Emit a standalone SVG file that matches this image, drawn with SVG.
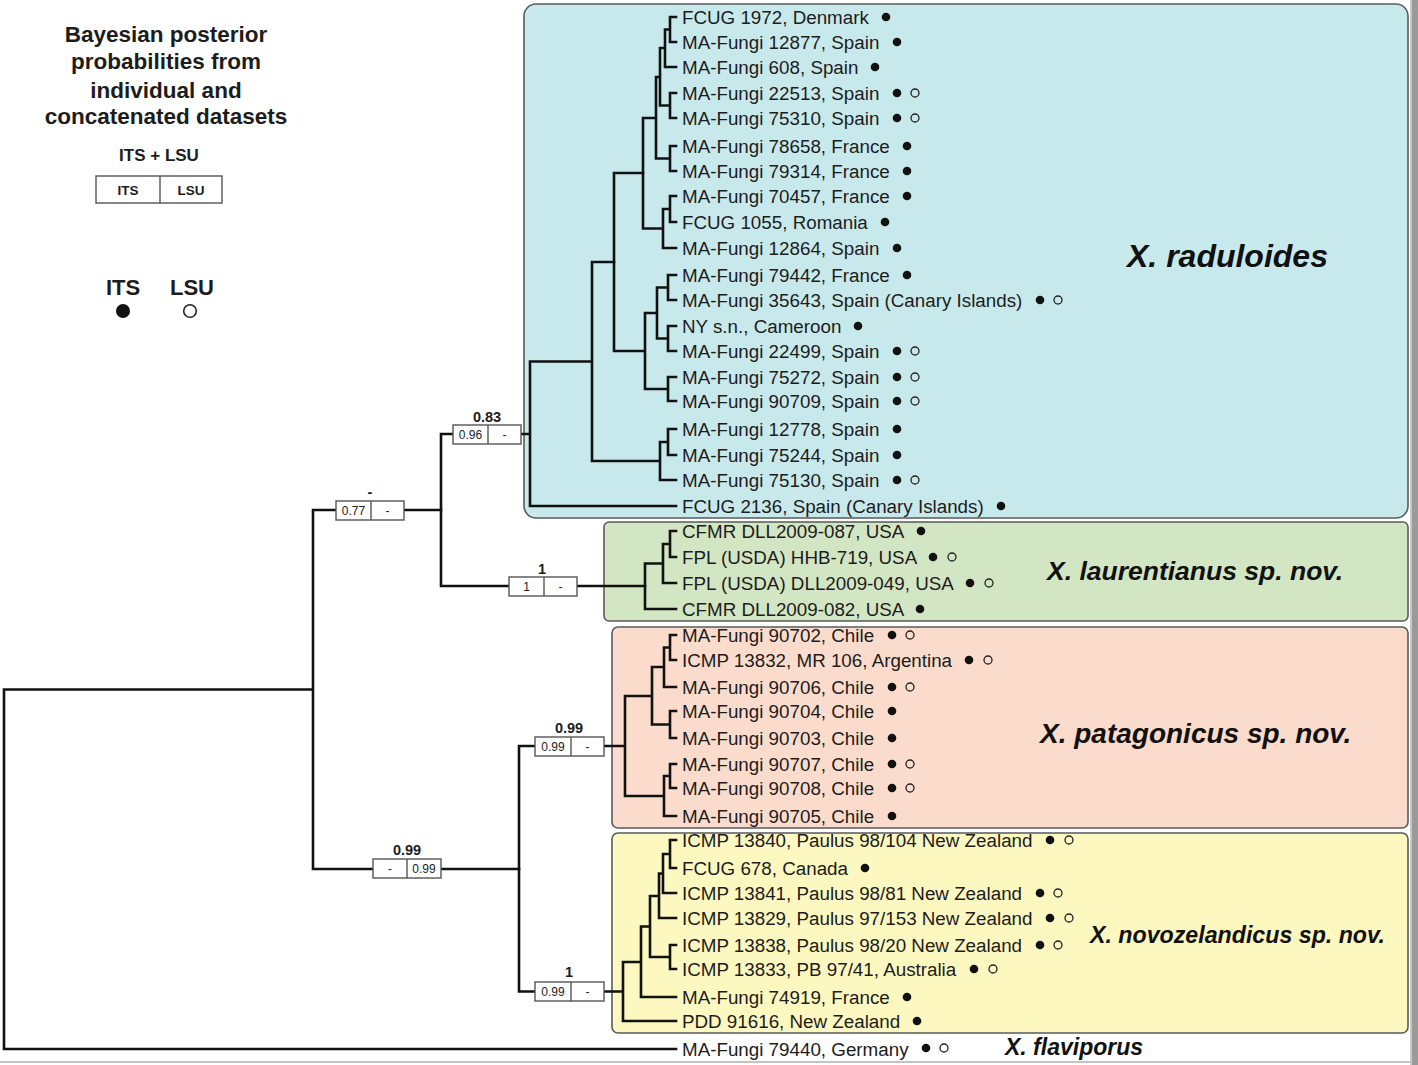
<svg xmlns="http://www.w3.org/2000/svg" width="1418" height="1065" viewBox="0 0 1418 1065">
<style>
.tx{font-family:"Liberation Sans",Arial,sans-serif;font-size:18.8px;fill:#1c1c1c}
.lg{font-family:"Liberation Sans",Arial,sans-serif;font-weight:bold;fill:#1c1c1c;text-anchor:middle}
.cl{font-family:"Liberation Sans",Arial,sans-serif;font-weight:bold;font-style:italic;fill:#111}
.bx{fill:#fff;stroke:#555;stroke-width:1.4}
.bt{font-family:"Liberation Sans",Arial,sans-serif;font-size:12px;fill:#222;text-anchor:middle}
.bl{font-family:"Liberation Sans",Arial,sans-serif;font-size:14.5px;font-weight:bold;fill:#1c1c1c;text-anchor:middle}
.f{fill:#111}
.o{fill:none;stroke:#222;stroke-width:1.3}
.tree{fill:none;stroke:#111;stroke-width:2.6;stroke-linejoin:miter;stroke-linecap:square}
.clade{stroke:#5a5a5a;stroke-width:1.6}
</style>
<rect width="1418" height="1065" fill="#fff"/>
<rect x="1410" y="0" width="8" height="1065" fill="#9a9a9a"/>
<rect x="1410" y="0" width="2" height="1065" fill="#c8c8c8"/>
<rect x="0" y="1061" width="1410" height="2" fill="#c4c4c4"/>

<g id="clade-boxes">
<rect id="box-raduloides" class="clade" x="524" y="4" width="884" height="514" rx="12" fill="#c8e9ec"/>
<rect id="box-laurentianus" class="clade" x="604" y="522" width="804" height="99" rx="5" fill="#d3e6c3"/>
<rect id="box-patagonicus" class="clade" x="612" y="627" width="796" height="201" rx="6" fill="#fbdccc"/>
<rect id="box-novozelandicus" class="clade" x="612" y="833" width="796" height="200" rx="6" fill="#fdf7c0"/>
</g>

<g id="legend">
<text class="lg" x="166" y="42" font-size="22.5">Bayesian posterior</text>
<text class="lg" x="166" y="69" font-size="22.5">probabilities from</text>
<text class="lg" x="166" y="98" font-size="22.5">individual and</text>
<text class="lg" x="166" y="124" font-size="22.5">concatenated datasets</text>
<text class="lg" x="159" y="161" font-size="17">ITS + LSU</text>
<rect class="bx" x="96" y="176" width="126" height="27"/>
<line x1="160" y1="176" x2="160" y2="203" stroke="#555" stroke-width="1.4"/>
<text class="lg" x="128" y="195" font-size="13.5" fill="#333">ITS</text>
<text class="lg" x="191" y="195" font-size="13.5" fill="#333">LSU</text>
<text class="lg" x="123" y="295" font-size="22">ITS</text>
<text class="lg" x="192" y="295" font-size="22">LSU</text>
<circle cx="123" cy="311" r="7" fill="#111"/>
<circle cx="190" cy="311" r="6.3" fill="none" stroke="#222" stroke-width="1.6"/>
</g>

<g id="connectors">
<path class="tree" d="M676 17H670V42H676 M670 29.5H665V67H676 M676 93H670V118H676 M665 48H660V105.5H670 M676 146H670V171H676 M660 77H656V158.5H670 M676 196H670V222H676 M670 209H663V248H676 M656 118H643V228.5H663"/>
<path class="tree" d="M676 275H668V300H676 M676 326H668V351H676 M668 287.5H657V338.5H668 M676 377H668V401H676 M657 313H645V389H668 M643 173H614V351H645"/>
<path class="tree" d="M676 429H668V455H676 M668 442H660V480H676 M614 262H592V461H660 M592 361.5H530V506H676 M530 434H521 M453 434H441V586H509 M577 586H645"/>
<path class="tree" d="M676 531H670V557H676 M670 544H663V583H676 M663 563.5H645V609H676"/>
<path class="tree" d="M441 510H404 M336 510H313V869H373 M441 869H519 M313 689.5H4V1049H676"/>
<path class="tree" d="M676 635H670V660H676 M670 647.5H664V687H676 M676 711H670V738H676 M664 667H652V724.5H670 M676 764H670V788H676 M670 776H664V816H676 M652 696H625V796H664 M625 746H604 M535 746H519V991.5H535"/>
<path class="tree" d="M676 840H670V868H676 M670 854H663V893H676 M663 873.5H659V918H676 M676 945H670V969H676 M659 896H650V957H670 M650 926.5H641V997H676 M641 962H623V1021H676 M623 991.5H604"/>
</g>

<g id="support-0.83">
<text class="bl" x="487" y="422">0.83</text>
<rect class="bx" x="453" y="425" width="68" height="19"/><line x1="488" y1="425" x2="488" y2="444" stroke="#555" stroke-width="1.4"/>
<text class="bt" x="470.5" y="438.5">0.96</text><text class="bt" x="504.5" y="438.5">-</text>
</g>
<g id="support-0.77">
<text class="bl" x="370" y="497">-</text>
<rect class="bx" x="336" y="501" width="68" height="19"/><line x1="371" y1="501" x2="371" y2="520" stroke="#555" stroke-width="1.4"/>
<text class="bt" x="353.5" y="514.5">0.77</text><text class="bt" x="387.5" y="514.5">-</text>
</g>
<g id="support-1-laur">
<text class="bl" x="542" y="574">1</text>
<rect class="bx" x="509" y="577" width="68" height="19"/><line x1="544" y1="577" x2="544" y2="596" stroke="#555" stroke-width="1.4"/>
<text class="bt" x="526.5" y="590.5">1</text><text class="bt" x="560.5" y="590.5">-</text>
</g>
<g id="support-0.99-pat">
<text class="bl" x="569" y="733">0.99</text>
<rect class="bx" x="535" y="737" width="69" height="19"/><line x1="571" y1="737" x2="571" y2="756" stroke="#555" stroke-width="1.4"/>
<text class="bt" x="553" y="750.5">0.99</text><text class="bt" x="587.5" y="750.5">-</text>
</g>
<g id="support-0.99-south">
<text class="bl" x="407" y="855">0.99</text>
<rect class="bx" x="373" y="859" width="68" height="19"/><line x1="407" y1="859" x2="407" y2="878" stroke="#555" stroke-width="1.4"/>
<text class="bt" x="390" y="872.5">-</text><text class="bt" x="424" y="872.5">0.99</text>
</g>
<g id="support-1-nz">
<text class="bl" x="569" y="977">1</text>
<rect class="bx" x="535" y="982" width="69" height="19"/><line x1="571" y1="982" x2="571" y2="1001" stroke="#555" stroke-width="1.4"/>
<text class="bt" x="553" y="995.5">0.99</text><text class="bt" x="587.5" y="995.5">-</text>
</g>

<g id="taxa">
<g id="t1"><text class="tx" x="682" y="23.5">FCUG 1972, Denmark</text><circle class="f" cx="886" cy="17" r="4.3"/></g>
<g id="t2"><text class="tx" x="682" y="48.5">MA-Fungi 12877, Spain</text><circle class="f" cx="897" cy="42" r="4.3"/></g>
<g id="t3"><text class="tx" x="682" y="73.5">MA-Fungi 608, Spain</text><circle class="f" cx="875" cy="67" r="4.3"/></g>
<g id="t4"><text class="tx" x="682" y="99.5">MA-Fungi 22513, Spain</text><circle class="f" cx="897" cy="93" r="4.3"/><circle class="o" cx="915" cy="93" r="4"/></g>
<g id="t5"><text class="tx" x="682" y="124.5">MA-Fungi 75310, Spain</text><circle class="f" cx="897" cy="118" r="4.3"/><circle class="o" cx="915" cy="118" r="4"/></g>
<g id="t6"><text class="tx" x="682" y="152.5">MA-Fungi 78658, France</text><circle class="f" cx="907" cy="146" r="4.3"/></g>
<g id="t7"><text class="tx" x="682" y="177.5">MA-Fungi 79314, France</text><circle class="f" cx="907" cy="171" r="4.3"/></g>
<g id="t8"><text class="tx" x="682" y="202.5">MA-Fungi 70457, France</text><circle class="f" cx="907" cy="196" r="4.3"/></g>
<g id="t9"><text class="tx" x="682" y="228.5">FCUG 1055, Romania</text><circle class="f" cx="885" cy="222" r="4.3"/></g>
<g id="t10"><text class="tx" x="682" y="254.5">MA-Fungi 12864, Spain</text><circle class="f" cx="897" cy="248" r="4.3"/></g>
<g id="t11"><text class="tx" x="682" y="281.5">MA-Fungi 79442, France</text><circle class="f" cx="907" cy="275" r="4.3"/></g>
<g id="t12"><text class="tx" x="682" y="306.5">MA-Fungi 35643, Spain (Canary Islands)</text><circle class="f" cx="1040" cy="300" r="4.3"/><circle class="o" cx="1058" cy="300" r="4"/></g>
<g id="t13"><text class="tx" x="682" y="332.5">NY s.n., Cameroon</text><circle class="f" cx="858" cy="326" r="4.3"/></g>
<g id="t14"><text class="tx" x="682" y="357.5">MA-Fungi 22499, Spain</text><circle class="f" cx="897" cy="351" r="4.3"/><circle class="o" cx="915" cy="351" r="4"/></g>
<g id="t15"><text class="tx" x="682" y="383.5">MA-Fungi 75272, Spain</text><circle class="f" cx="897" cy="377" r="4.3"/><circle class="o" cx="915" cy="377" r="4"/></g>
<g id="t16"><text class="tx" x="682" y="407.5">MA-Fungi 90709, Spain</text><circle class="f" cx="897" cy="401" r="4.3"/><circle class="o" cx="915" cy="401" r="4"/></g>
<g id="t17"><text class="tx" x="682" y="435.5">MA-Fungi 12778, Spain</text><circle class="f" cx="897" cy="429" r="4.3"/></g>
<g id="t18"><text class="tx" x="682" y="461.5">MA-Fungi 75244, Spain</text><circle class="f" cx="897" cy="455" r="4.3"/></g>
<g id="t19"><text class="tx" x="682" y="486.5">MA-Fungi 75130, Spain</text><circle class="f" cx="897" cy="480" r="4.3"/><circle class="o" cx="915" cy="480" r="4"/></g>
<g id="t20"><text class="tx" x="682" y="512.5">FCUG 2136, Spain (Canary Islands)</text><circle class="f" cx="1001" cy="506" r="4.3"/></g>
<g id="t21"><text class="tx" x="682" y="537.5">CFMR DLL2009-087, USA</text><circle class="f" cx="921" cy="531" r="4.3"/></g>
<g id="t22"><text class="tx" x="682" y="563.5">FPL (USDA) HHB-719, USA</text><circle class="f" cx="933" cy="557" r="4.3"/><circle class="o" cx="952" cy="557" r="4"/></g>
<g id="t23"><text class="tx" x="682" y="589.5">FPL (USDA) DLL2009-049, USA</text><circle class="f" cx="970" cy="583" r="4.3"/><circle class="o" cx="989" cy="583" r="4"/></g>
<g id="t24"><text class="tx" x="682" y="615.5">CFMR DLL2009-082, USA</text><circle class="f" cx="920" cy="609" r="4.3"/></g>
<g id="t25"><text class="tx" x="682" y="641.5">MA-Fungi 90702, Chile</text><circle class="f" cx="892" cy="635" r="4.3"/><circle class="o" cx="910" cy="635" r="4"/></g>
<g id="t26"><text class="tx" x="682" y="666.5">ICMP 13832, MR 106, Argentina</text><circle class="f" cx="969" cy="660" r="4.3"/><circle class="o" cx="988" cy="660" r="4"/></g>
<g id="t27"><text class="tx" x="682" y="693.5">MA-Fungi 90706, Chile</text><circle class="f" cx="892" cy="687" r="4.3"/><circle class="o" cx="910" cy="687" r="4"/></g>
<g id="t28"><text class="tx" x="682" y="717.5">MA-Fungi 90704, Chile</text><circle class="f" cx="892" cy="711" r="4.3"/></g>
<g id="t29"><text class="tx" x="682" y="744.5">MA-Fungi 90703, Chile</text><circle class="f" cx="892" cy="738" r="4.3"/></g>
<g id="t30"><text class="tx" x="682" y="770.5">MA-Fungi 90707, Chile</text><circle class="f" cx="892" cy="764" r="4.3"/><circle class="o" cx="910" cy="764" r="4"/></g>
<g id="t31"><text class="tx" x="682" y="794.5">MA-Fungi 90708, Chile</text><circle class="f" cx="892" cy="788" r="4.3"/><circle class="o" cx="910" cy="788" r="4"/></g>
<g id="t32"><text class="tx" x="682" y="822.5">MA-Fungi 90705, Chile</text><circle class="f" cx="892" cy="816" r="4.3"/></g>
<g id="t33"><text class="tx" x="682" y="846.5">ICMP 13840, Paulus 98/104 New Zealand</text><circle class="f" cx="1050" cy="840" r="4.3"/><circle class="o" cx="1069" cy="840" r="4"/></g>
<g id="t34"><text class="tx" x="682" y="874.5">FCUG 678, Canada</text><circle class="f" cx="865" cy="868" r="4.3"/></g>
<g id="t35"><text class="tx" x="682" y="899.5">ICMP 13841, Paulus 98/81 New Zealand</text><circle class="f" cx="1040" cy="893" r="4.3"/><circle class="o" cx="1058" cy="893" r="4"/></g>
<g id="t36"><text class="tx" x="682" y="924.5">ICMP 13829, Paulus 97/153 New Zealand</text><circle class="f" cx="1050" cy="918" r="4.3"/><circle class="o" cx="1069" cy="918" r="4"/></g>
<g id="t37"><text class="tx" x="682" y="951.5">ICMP 13838, Paulus 98/20 New Zealand</text><circle class="f" cx="1040" cy="945" r="4.3"/><circle class="o" cx="1058" cy="945" r="4"/></g>
<g id="t38"><text class="tx" x="682" y="975.5">ICMP 13833, PB 97/41, Australia</text><circle class="f" cx="974" cy="969" r="4.3"/><circle class="o" cx="993" cy="969" r="4"/></g>
<g id="t39"><text class="tx" x="682" y="1003.5">MA-Fungi 74919, France</text><circle class="f" cx="907" cy="997" r="4.3"/></g>
<g id="t40"><text class="tx" x="682" y="1027.5">PDD 91616, New Zealand</text><circle class="f" cx="917" cy="1021" r="4.3"/></g>
<g id="t41"><text class="tx" x="682" y="1055.5">MA-Fungi 79440, Germany</text><circle class="f" cx="926" cy="1048" r="4.3"/><circle class="o" cx="944" cy="1048" r="4"/></g>
</g>

<g id="clade-labels">
<text class="cl" x="1127" y="267" font-size="32">X. raduloides</text>
<text class="cl" x="1047" y="580" font-size="26.5">X. laurentianus sp. nov.</text>
<text class="cl" x="1040" y="743" font-size="28">X. patagonicus sp. nov.</text>
<text class="cl" x="1090" y="943" font-size="23.2">X. novozelandicus sp. nov.</text>
<text class="cl" x="1005" y="1055" font-size="23">X. flaviporus</text>
</g>
</svg>
